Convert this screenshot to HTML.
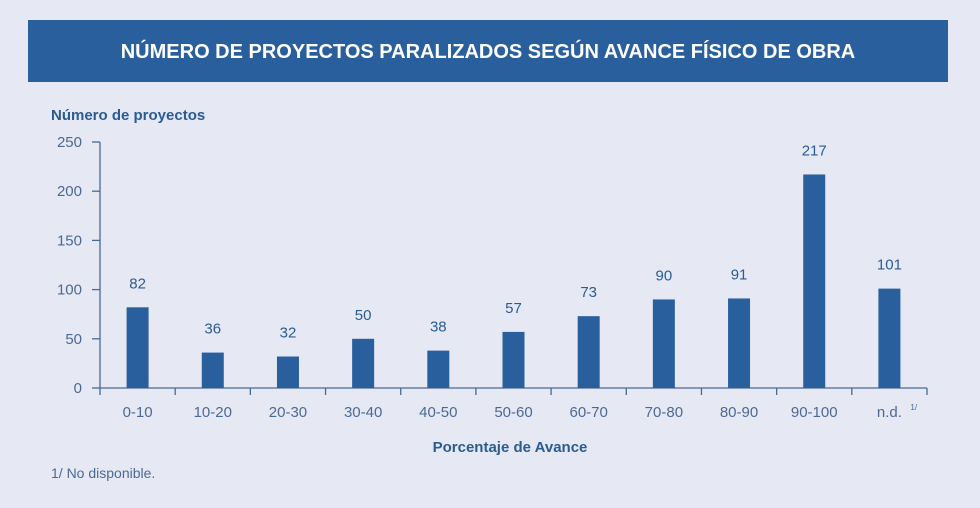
<!DOCTYPE html>
<html><head><meta charset="utf-8"><style>
body{margin:0;background:#e6e8f3;}
svg{display:block;font-family:"Liberation Sans",sans-serif;}
</style></head><body>
<svg id="chart" width="980" height="508" viewBox="0 0 980 508">
<rect x="0" y="0" width="980" height="508" fill="#e6e8f3"/>
<rect x="28" y="20" width="920" height="62" fill="#2a5f9e"/>
<text x="488" y="58" text-anchor="middle" fill="#fff" font-size="20" font-weight="bold">NÚMERO DE PROYECTOS PARALIZADOS SEGÚN AVANCE FÍSICO DE OBRA</text>
<text x="51" y="120" fill="#2a5c94" font-size="15" font-weight="bold">Número de proyectos</text>
<text x="510" y="452" text-anchor="middle" fill="#2a5c94" font-size="15" font-weight="bold">Porcentaje de Avance</text>
<text x="51" y="478" fill="#4a6a96" font-size="14">1/ No disponible.</text>
<g id="plot"></g>
</svg>
<script>
const categories=["0-10","10-20","20-30","30-40","40-50","50-60","60-70","70-80","80-90","90-100","n.d."];
const values=[82,36,32,50,38,57,73,90,91,217,101];
const yTicks=[0,50,100,150,200,250];
const x0=100,x1=927,yBase=388,yTop=142,yMax=250;
const slot=(x1-x0)/categories.length;
const xc=i=>x0+slot*(i+0.5);
const y=v=>yBase-(yBase-yTop)*v/yMax;
const g=document.getElementById('plot');
const NS='http://www.w3.org/2000/svg';
function mk(t,a){const e=document.createElementNS(NS,t);for(const k in a)e.setAttribute(k,a[k]);g.appendChild(e);return e;}
const axisColor="#4a6a96";
let e=mk('line',{x1:x0,y1:yTop,x2:x0,y2:yBase,stroke:axisColor,'stroke-width':1.3});


e=mk('line',{x1:x0,y1:yBase,x2:x1,y2:yBase,stroke:axisColor,'stroke-width':1.3});


yTicks.forEach(v=>{
 let t=mk('line',{x1:x0-8,y1:y(v),x2:x0,y2:y(v),stroke:axisColor,'stroke-width':1.3});
 
 
 let l=mk('text',{x:82,y:y(v)+5,'text-anchor':'end',fill:axisColor,'font-size':15});
 l.textContent=v;
 
 
});
for(let i=0;i<=categories.length;i++){
 let t=mk('line',{x1:x0+slot*i,y1:yBase,x2:x0+slot*i,y2:yBase+7,stroke:axisColor,'stroke-width':1.3});
 
 
}
categories.forEach((c,i)=>{
 const v=values[i];
 let b=mk('rect',{x:xc(i)-11,y:y(v),width:22,height:yBase-y(v),fill:"#2a5f9e"});
 
 
 let l=mk('text',{x:xc(i),y:y(v)-19,'text-anchor':'middle',fill:"#2a5c94",'font-size':15});
 l.textContent=v;
 
 
 let cl=mk('text',{x:xc(i),y:417,'text-anchor':'middle',fill:axisColor,'font-size':15});
 cl.textContent=c;
 
 
 if(c==="n.d."){
  let s=mk('text',{x:xc(i)+21,y:410,fill:axisColor,'font-size':8});
  s.textContent="1/";
  
  
 }
});
</script>
</body></html>
